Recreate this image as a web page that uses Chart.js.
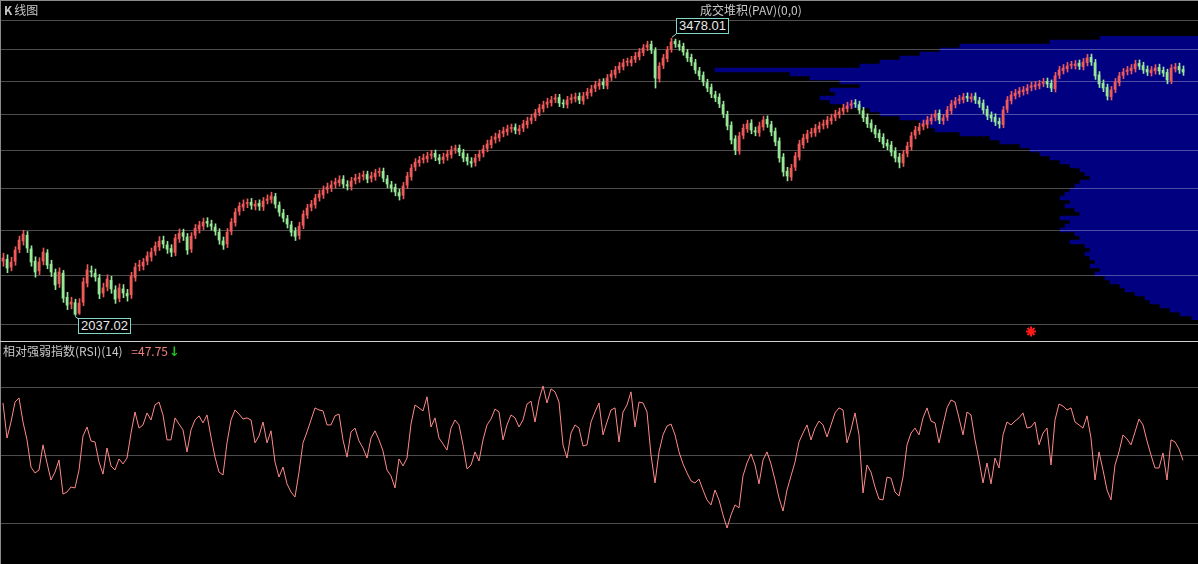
<!DOCTYPE html>
<html><head><meta charset="utf-8">
<script src="https://cdn.jsdelivr.net/npm/chart.js@4.4.1/dist/chart.umd.min.js"></script>
<style>
html,body{margin:0;padding:0;background:#000;overflow:hidden;}
#wrap{position:relative;width:1198px;height:564px;background:#000;}
canvas{position:absolute;left:0;}
.t{position:absolute;font-family:"Noto Sans CJK SC","DejaVu Sans",sans-serif;font-size:12px;color:#c8c8c8;white-space:nowrap;line-height:14px;}
.box{position:absolute;border:1px solid #7fd8c8;color:#e8e8e8;font-family:"Liberation Sans",Arial,sans-serif;font-size:13px;line-height:14px;padding:0 2px;background:#000;white-space:nowrap;}
.ln{position:absolute;}
</style></head><body>
<div id="wrap">
<canvas id="pav" width="1198" height="341" style="top:0"></canvas>
<canvas id="price" width="1198" height="341" style="top:0"></canvas>
<canvas id="rsi" width="1198" height="223" style="top:341px"></canvas>
<div class="ln" style="left:0;top:0;width:1198px;height:1px;background:#8a8a8a"></div>
<div class="ln" style="left:0;top:0;width:1px;height:564px;background:#8a8a8a"></div>
<div class="ln" style="left:0;top:341px;width:1198px;height:1px;background:#d0d0d0"></div>
<div class="t" style="left:4px;top:3px;"><b style="margin-right:2px">K</b>线图</div>
<div class="t" style="left:700px;top:3px;">成交堆积(PAV)(0,0)</div>
<div class="t" style="left:3px;top:344px;">相对强弱指数(RSI)(14) <span style="color:#f08080;margin-left:6px">=47.75</span><span style="color:#20c020;font-family:'DejaVu Sans';font-weight:bold;font-size:13px;margin-left:1px">↓</span></div>
<div class="box" id="hiBox"></div>
<div class="box" id="loBox"></div>
</div>
<script>
// ---- price candles (one per plotted bar) ----
const opens = [
2262,2270,2236,2262,2314,2352,2378,2316,2262,2220,
2262,2298,2249,2212,2166,2210,2110,2082,2088,2046,
2090,2168,2220,2210,2190,2127,2152,2180,2140,2106,
2144,2125,2120,2192,2240,2241,2262,2280,2306,2325,
2354,2334,2318,2300,2361,2390,2370,2316,2378,2406,
2421,2442,2430,2416,2392,2352,2338,2396,2436,2490,
2511,2528,2534,2516,2529,2512,2543,2548,2562,2520,
2482,2455,2426,2396,2377,2424,2472,2510,2522,2558,
2571,2598,2606,2624,2632,2650,2622,2612,2644,2652,
2664,2674,2654,2662,2684,2690,2651,2621,2608,2582,
2569,2620,2662,2712,2735,2752,2756,2775,2785,2761,
2752,2768,2778,2806,2812,2788,2764,2741,2737,2764,
2786,2812,2832,2862,2870,2895,2904,2922,2928,2909,
2924,2944,2968,2986,3014,3036,3062,3071,3092,3102,
3066,3060,3090,3096,3109,3082,3115,3131,3158,3172,
3194,3174,3226,3242,3275,3292,3320,3318,3339,3356,
3383,3418,3437,3396,3216,3301,3344,3405,3458,3436,
3424,3382,3352,3318,3266,3238,3192,3163,3118,3104,
3060,3001,2940,2864,2798,2884,2920,2952,2909,2898,
2931,2974,2944,2906,2852,2765,2691,2661,2712,2766,
2832,2864,2895,2898,2920,2940,2944,2966,2986,3001,
3021,3036,3056,3068,3060,3024,2986,2952,2920,2895,
2873,2840,2830,2796,2765,2734,2785,2821,2884,2909,
2934,2944,2966,2986,3009,2966,2986,3024,3060,3085,
3089,3109,3095,3110,3083,3068,3032,2997,2986,2962,
2944,3032,3083,3113,3125,3137,3143,3163,3168,3174,
3188,3200,3188,3155,3238,3267,3279,3300,3299,3314,
3292,3318,3352,3318,3240,3188,3163,3107,3151,3192,
3238,3262,3267,3279,3313,3299,3275,3254,3266,3287,
3269,3256,3205,3279,3294,3275];
const highs = [
2297,2290,2279,2326,2374,2401,2395,2330,2281,2277,
2320,2313,2266,2228,2233,2222,2130,2110,2102,2104,
2190,2247,2241,2228,2205,2168,2203,2197,2157,2165,
2162,2142,2214,2253,2266,2274,2303,2320,2347,2372,
2374,2350,2335,2382,2407,2406,2386,2390,2428,2443,
2458,2460,2448,2431,2408,2370,2409,2456,2504,2533,
2546,2551,2553,2543,2546,2558,2571,2584,2578,2536,
2500,2471,2443,2413,2438,2494,2524,2544,2573,2594,
2615,2630,2641,2655,2667,2668,2642,2659,2675,2681,
2692,2691,2686,2701,2708,2707,2669,2639,2625,2600,
2633,2685,2726,2757,2769,2781,2791,2802,2803,2779,
2786,2802,2824,2830,2831,2807,2783,2762,2780,2802,
2829,2857,2879,2896,2912,2929,2941,2947,2948,2940,
2969,2986,3004,3032,3062,3080,3098,3109,3122,3121,
3089,3109,3122,3129,3130,3133,3158,3176,3201,3214,
3217,3243,3269,3294,3319,3340,3347,3359,3384,3410,
3436,3458,3459,3415,3318,3371,3423,3478.01,3472,3462,
3445,3403,3373,3339,3288,3259,3213,3184,3140,3125,
3080,3021,2960,2882,2901,2946,2969,2972,2930,2958,
2992,2994,2963,2925,2870,2784,2711,2727,2791,2856,
2890,2912,2924,2945,2958,2970,2991,3004,3027,3039,
3062,3074,3086,3090,3080,3044,3006,2972,2940,2915,
2893,2860,2850,2816,2785,2802,2846,2901,2934,2952,
2970,2991,3004,3027,3029,3003,3049,3085,3103,3115,
3127,3130,3126,3130,3103,3088,3052,3017,3006,2982,
3049,3108,3139,3151,3163,3169,3181,3194,3200,3206,
3219,3221,3209,3256,3294,3306,3319,3326,3332,3335,
3345,3371,3373,3339,3261,3209,3183,3169,3218,3256,
3281,3294,3306,3333,3335,3320,3297,3293,3305,3308,
3290,3276,3305,3313,3315,3297];
const lows = [
2240,2212,2220,2244,2299,2333,2300,2240,2193,2204,
2246,2229,2196,2141,2150,2089,2060,2063,2037.02,2041,
2076,2152,2194,2176,2104,2111,2136,2126,2085,2091,
2108,2094,2105,2176,2220,2224,2246,2262,2288,2309,
2320,2296,2282,2285,2345,2354,2292,2300,2362,2388,
2404,2416,2402,2378,2337,2314,2322,2380,2420,2472,
2493,2508,2500,2497,2495,2494,2526,2530,2506,2467,
2440,2411,2374,2354,2360,2408,2456,2492,2505,2540,
2553,2579,2587,2605,2614,2606,2595,2594,2625,2633,
2645,2631,2635,2644,2664,2636,2606,2585,2566,2545,
2551,2602,2644,2693,2716,2733,2737,2755,2746,2729,
2732,2748,2759,2785,2772,2740,2723,2712,2717,2745,
2766,2793,2813,2841,2850,2875,2884,2901,2892,2888,
2904,2924,2948,2966,2994,3016,3041,3051,3071,3048,
3041,3039,3068,3075,3065,3061,3094,3110,3137,3151,
3155,3153,3205,3221,3253,3271,3297,3296,3318,3335,
3362,3395,3377,3159,3195,3279,3323,3385,3417,3397,
3365,3325,3299,3249,3211,3173,3137,3101,3077,3042,
2984,2914,2836,2778,2780,2864,2900,2892,2881,2878,
2912,2928,2881,2826,2738,2665,2641,2643,2694,2749,
2812,2844,2874,2878,2900,2919,2924,2946,2966,2981,
3001,3016,3035,3043,3007,2961,2927,2903,2870,2848,
2815,2804,2771,2739,2708,2715,2766,2802,2864,2889,
2914,2924,2946,2965,2949,2945,2967,3004,3040,3064,
3069,3078,3075,3066,3043,3007,2972,2961,2938,2924,
2926,3013,3063,3093,3105,3116,3123,3142,3148,3154,
3167,3162,3137,3135,3217,3246,3258,3278,3277,3274,
3271,3297,3300,3212,3162,3137,3087,3087,3131,3172,
3217,3240,3246,3258,3274,3249,3236,3233,3245,3243,
3230,3185,3185,3258,3249,3237];
const closes = [
2276,2232,2258,2311,2356,2383,2320,2258,2215,2258,
2302,2245,2215,2160,2215,2106,2078,2090,2042,2086,
2173,2224,2215,2194,2123,2148,2185,2144,2102,2148,
2127,2115,2198,2236,2245,2258,2285,2302,2329,2351,
2338,2315,2302,2365,2387,2373,2311,2373,2410,2425,
2439,2434,2420,2396,2356,2333,2392,2439,2486,2515,
2525,2530,2520,2525,2515,2540,2550,2565,2525,2486,
2458,2430,2392,2373,2420,2477,2506,2525,2555,2575,
2595,2610,2620,2635,2645,2625,2615,2640,2655,2660,
2671,2650,2666,2681,2687,2655,2625,2605,2585,2565,
2615,2666,2707,2738,2749,2760,2771,2781,2765,2749,
2765,2781,2803,2808,2792,2760,2744,2733,2760,2781,
2808,2836,2858,2874,2891,2907,2919,2924,2913,2919,
2948,2964,2982,3011,3040,3058,3075,3087,3099,3069,
3064,3087,3099,3105,3087,3111,3135,3153,3178,3190,
3178,3221,3246,3271,3296,3316,3322,3335,3360,3387,
3413,3433,3400,3221,3296,3348,3400,3453,3440,3420,
3387,3348,3322,3271,3234,3196,3159,3123,3099,3064,
3005,2936,2858,2803,2880,2924,2948,2913,2902,2936,
2970,2948,2902,2847,2760,2687,2666,2707,2771,2836,
2869,2891,2902,2924,2936,2948,2970,2982,3005,3017,
3040,3052,3064,3064,3028,2982,2948,2924,2891,2869,
2836,2825,2792,2760,2738,2781,2825,2880,2913,2930,
2948,2970,2982,3005,2970,2982,3028,3064,3081,3093,
3105,3099,3105,3087,3064,3028,2993,2982,2959,2948,
3028,3087,3117,3129,3141,3147,3159,3172,3178,3184,
3196,3184,3159,3234,3271,3283,3296,3303,3309,3296,
3322,3348,3322,3234,3184,3159,3111,3147,3196,3234,
3258,3271,3283,3309,3296,3271,3258,3271,3283,3265,
3252,3209,3283,3290,3271,3258];
// ---- RSI(14) ----
const rsi = [
73.1,57.6,64.7,73.5,75.3,64.7,56.8,44.8,42.2,43.5,
54.6,46.6,39.1,42.6,47.9,32.9,33.8,36.0,35.6,43.5,
58.5,62.5,56.3,55.9,47.0,41.7,53.2,45.3,43.5,48.4,
46.2,48.8,59.8,69.1,62.0,63.4,68.7,65.6,72.2,73.5,
67.8,56.8,56.8,66.5,63.8,61.2,51.5,61.2,65.6,67.4,
64.3,67.8,58.1,49.2,42.6,41.3,55.5,65.6,70.0,68.2,
66.0,66.5,65.6,55.5,58.5,64.7,55.5,60.8,47.0,40.4,
44.8,37.4,33.8,31.6,42.6,55.5,60.3,65.6,70.9,70.0,
69.6,63.4,63.4,67.4,68.2,56.8,49.2,60.3,62.0,56.3,
53.2,48.8,57.6,60.8,56.8,51.9,43.5,40.9,35.6,48.4,
45.3,48.8,63.8,72.2,70.9,69.6,75.8,62.5,66.5,57.6,
55.0,52.3,62.0,65.6,63.4,54.6,44.0,45.7,51.5,47.5,
56.8,63.4,66.0,70.4,69.1,56.8,63.4,67.8,66.5,62.5,
65.6,72.6,73.9,64.7,74.4,80.6,73.1,79.3,78.0,73.5,
54.6,48.8,59.8,63.4,62.0,54.1,54.6,64.7,69.1,73.1,
59.0,64.7,70.0,70.9,55.9,69.1,72.2,78.0,62.5,73.5,
73.1,69.1,50.1,37.8,51.5,59.0,62.9,63.8,59.0,51.5,
46.2,42.2,38.7,37.8,39.5,34.7,30.3,28.1,34.7,30.3,
23.7,17.9,23.7,28.1,26.8,40.9,46.6,50.6,45.7,37.4,
47.9,51.5,46.2,39.1,31.2,25.4,34.7,40.9,47.0,55.9,
59.8,63.4,56.8,62.0,65.1,63.4,58.1,63.4,68.7,70.9,
70.0,55.5,61.2,68.7,59.0,33.4,45.7,42.6,36.0,30.7,
30.3,40.4,39.9,33.8,32.0,40.4,54.6,59.8,62.0,59.0,
66.5,70.9,65.1,64.3,55.5,63.4,70.9,74.4,73.5,66.5,
59.0,69.1,67.8,56.8,47.9,37.8,46.6,37.4,48.8,44.4,
59.0,64.7,63.4,65.1,66.5,68.7,62.0,62.5,64.7,54.6,
59.8,62.0,45.7,65.6,72.6,71.7,70.0,70.9,64.7,63.4,
62.0,67.4,57.6,39.1,51.5,43.5,34.7,30.3,45.7,51.5,
59.0,57.2,54.6,60.3,66.0,63.4,56.3,50.1,44.4,44.4,
51.0,39.1,56.8,55.9,52.8,47.75];
// ---- PAV volume profile (price level -> accumulated volume) ----
const pavPrices = [3480,3453,3427,3400,3374,3348,3322,3296,3271,3246,3221,3196,3172,3147,3123,3099,3075,3052,3028,3005,
2982,2959,2936,2913,2891,2869,2847,2825,2803,2781,2760,2738,2717,2697,2676,2655,2635,2615,2595,2575,
2555,2535,2515,2496,2477,2458,2439,2420,2401,2383,2365,2347,2329,2311,2293,2276,2258,2241,2224,2207,
2190,2173,2156,2139,2123,2106,2090,2074,2058,2042,2026];
const pavVolumes = [98,148,238,258,278,298,318,338,483,408,388,358,338,368,363,378,368,353,328,318,
298,278,268,263,238,208,198,178,168,158,148,138,128,118,113,108,118,123,128,133,
138,128,133,123,118,138,128,133,138,123,118,128,113,108,113,108,103,108,98,103,
93,88,78,73,63,53,48,38,28,18,6];
const priceGrid = [2000,2200,2400,2600,2800,3000,3200,3400,3600];
const rsiGrid = [20,50,80];
const markerIdx = [257];
const markerPrice = [1975];

const N = closes.length;
const idx = closes.map((_, i) => i);
const UP = '#ee5a5a', DN = '#98e698';
const GRID = 'rgba(255,255,255,0.30)';
const colFn = c => closes[c.dataIndex] >= opens[c.dataIndex] ? UP : DN;
const X_MIN = -0.75, X_MAX = N + 2.75;

new Chart(document.getElementById('pav'), {
  type: 'bar',
  data: { labels: pavPrices.map(String),
    datasets: [{ data: pavVolumes, backgroundColor: '#000080', borderWidth: 0, barPercentage: 1, categoryPercentage: 1 }] },
  options: { indexAxis: 'y', responsive: false, animation: false, events: [],
    layout: { padding: { top: 36, bottom: 21, left: 0, right: 0 }, autoPadding: false },
    plugins: { legend: { display: false }, tooltip: { enabled: false } },
    scales: { x: { type: 'linear', reverse: true, min: 0, max: 1198, display: false, offset: false },
              y: { type: 'category', display: false } } }
});

const connectors = {
  id: 'connectors',
  afterDatasetsDraw(chart) {
    const c = chart.ctx, xs = chart.scales.x, ys = chart.scales.y;
    const hi = highs.indexOf(Math.max(...highs)), lo = lows.indexOf(Math.min(...lows));
    c.save(); c.strokeStyle = '#9fe0d0'; c.lineWidth = 1;
    let x = xs.getPixelForValue(hi), y = ys.getPixelForValue(highs[hi]);
    c.beginPath(); c.moveTo(x + 1, y - 1); c.lineTo(x + 5, y - 4); c.stroke();
    x = xs.getPixelForValue(lo); y = ys.getPixelForValue(lows[lo]);
    c.beginPath(); c.moveTo(x, y + 1); c.lineTo(x + 4, y + 4); c.stroke();
    c.restore();
  }
};

const xCommon = { type: 'linear', min: X_MIN, max: X_MAX, display: false, offset: false, grid: { offset: false } };

const priceChart = new Chart(document.getElementById('price'), {
  type: 'bar',
  data: { datasets: [
    { data: idx.map(i => ({ x: i, y: [lows[i], highs[i]] })), backgroundColor: colFn, barThickness: 1, grouped: false, borderWidth: 0, xAxisID: 'xw' },
    { data: idx.map(i => ({ x: i, y: [Math.min(opens[i], closes[i]), Math.max(opens[i], closes[i])] })), backgroundColor: colFn, barThickness: 2, grouped: false, borderWidth: 0, minBarLength: 1 },
    { type: 'scatter', data: markerIdx.map((m, k) => ({ x: m, y: markerPrice[k] })), pointStyle: 'star', pointRadius: 5, borderColor: '#ff1a1a', backgroundColor: '#ff1a1a', borderWidth: 2 }
  ] },
  options: { responsive: false, animation: false, events: [],
    layout: { padding: 0, autoPadding: false },
    plugins: { legend: { display: false }, tooltip: { enabled: false } },
    scales: {
      x: Object.assign({}, xCommon),
      xw: Object.assign({}, xCommon, { min: X_MIN - 0.125, max: X_MAX - 0.125 }),
      y: { type: 'logarithmic', min: 1939, max: 3744, bounds: 'data', position: 'left',
           afterBuildTicks: a => { a.ticks = priceGrid.map(v => ({ value: v })); },
           ticks: { display: false }, border: { display: false },
           grid: { color: GRID, lineWidth: 1, drawTicks: false } }
    } },
  plugins: [connectors]
});

new Chart(document.getElementById('rsi'), {
  type: 'line',
  data: { datasets: [{ data: idx.map(i => ({ x: i, y: rsi[i] })), borderColor: '#ff8a8a', borderWidth: 1, pointRadius: 0, tension: 0, fill: false }] },
  options: { responsive: false, animation: false, events: [],
    layout: { padding: 0, autoPadding: false },
    plugins: { legend: { display: false }, tooltip: { enabled: false } },
    scales: {
      x: Object.assign({}, xCommon),
      y: { type: 'linear', min: 2.04, max: 100.43, position: 'left',
           afterBuildTicks: a => { a.ticks = rsiGrid.map(v => ({ value: v })); },
           ticks: { display: false }, border: { display: false },
           grid: { color: GRID, lineWidth: 1, drawTicks: false } }
    } }
});

// annotation boxes positioned from the chart's own scales
(function () {
  const xs = priceChart.scales.x, ys = priceChart.scales.y;
  const hi = highs.indexOf(Math.max(...highs)), lo = lows.indexOf(Math.min(...lows));
  const hb = document.getElementById('hiBox'), lb = document.getElementById('loBox');
  hb.textContent = highs[hi].toFixed(2); lb.textContent = lows[lo].toFixed(2);
  hb.style.left = Math.round(xs.getPixelForValue(hi) + 5) + 'px';
  hb.style.top = Math.round(ys.getPixelForValue(highs[hi]) - 20) + 'px';
  lb.style.left = Math.round(xs.getPixelForValue(lo) + 3) + 'px';
  lb.style.top = Math.round(ys.getPixelForValue(lows[lo]) + 3) + 'px';
})();
</script>
</body></html>
